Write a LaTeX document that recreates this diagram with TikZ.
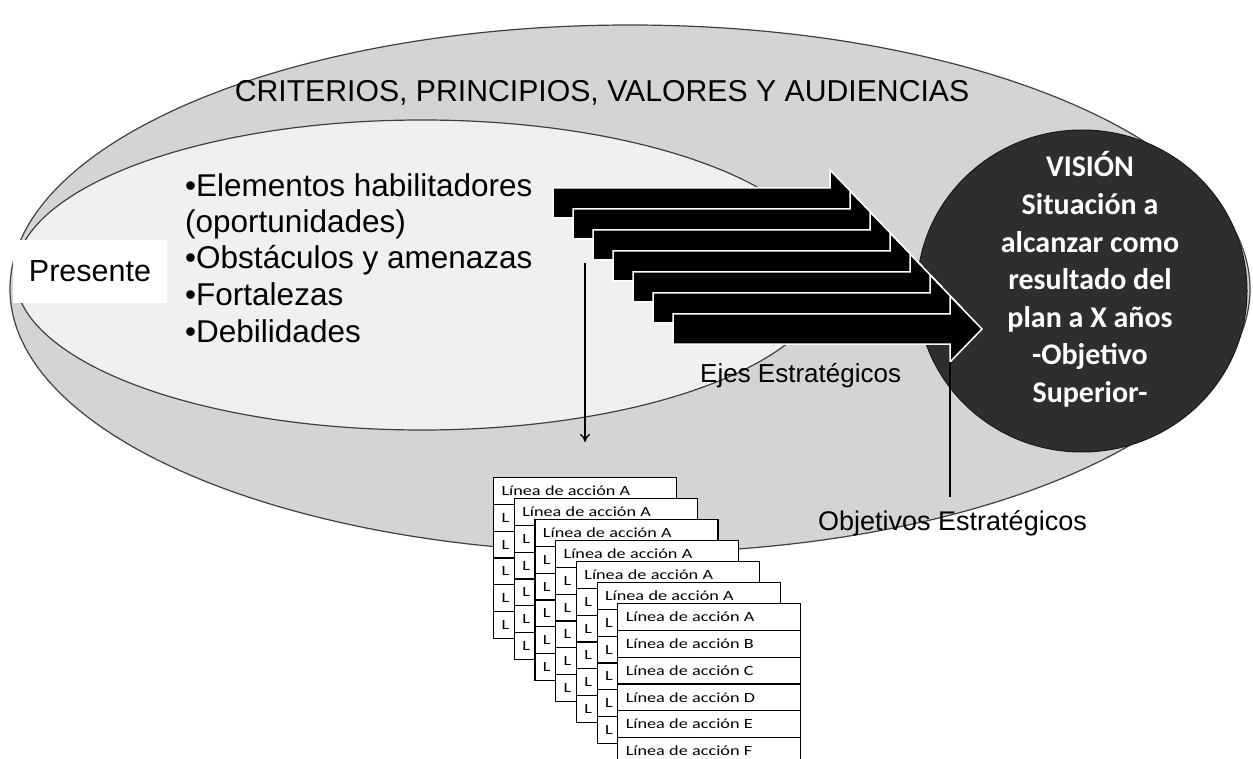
\documentclass[tikz,border=0pt]{standalone}
\usepackage{fontspec}
\setmainfont{Liberation Sans}
\newfontfamily\calib{Carlito}
\usetikzlibrary{arrows.meta}
\newcommand\cardtxt[1]{\scalebox{1.3}[1]{\calib\fontsize{14}{14}\selectfont #1}}
\begin{document}
\begin{tikzpicture}[x=1pt,y=-1pt,
  outerell/.style={draw=black!75, line width=1.2pt, fill=black!17},
  innerell/.style={draw=black!75, line width=1.2pt, fill=black!6},
  visionell/.style={draw=black!90, line width=1pt, fill=black!82},
  arrowshape/.style={fill=black, draw=white, line width=1.5pt},
  lbl/.style={inner sep=0pt, anchor=base west},
  cardrow/.style={draw=black, line width=1.1pt, fill=white, inner xsep=8pt, inner ysep=0pt,
     text width=167pt, align=left, minimum height=26.8pt, anchor=north west},
  conn/.style={line width=1.3pt, black}
]
\clip (0,0) rectangle (1253,759);
\fill[white] (0,0) rectangle (1253,759);
% ellipses
\path[outerell] (630,289) ellipse [x radius=620, y radius=264];
\path[innerell] (422,275) ellipse [x radius=407, y radius=155];
\path[visionell] (1082,291) ellipse [x radius=165, y radius=161];
% strategic axes arrows
\foreach \i [evaluate=\i as \xl using 553+20*\i, evaluate=\i as \yt using 188+21*\i] in {0,...,6}{
  \path[arrowshape] (\xl,\yt) -- (\xl+277,\yt) -- (\xl+277,\yt-18) -- (\xl+309,\yt+15)
     -- (\xl+277,\yt+48) -- (\xl+277,\yt+30) -- (\xl,\yt+30) -- cycle;
}
\coordinate (hd) at (950,362);
\coordinate (oe) at (950,497);
\coordinate (ds) at (585,263);
\coordinate (de) at (585,442);
% texts
\node[inner sep=0pt, font=\fontsize{30.2}{31}\selectfont] (crit) at (602,93) {CRITERIOS, PRINCIPIOS, VALORES Y AUDIENCIAS};
\node[fill=white, minimum width=154pt, minimum height=63pt, inner sep=0pt, font=\fontsize{30.5}{31}\selectfont] (pres) at (90,271.5) {Presente};
\foreach \n/\y/\t in {b1/197/{•Elementos habilitadores}, b2/233/{(oportunidades)}, b3/269/{•Obstáculos y amenazas}, b4/306/{•Fortalezas}, b5/342/{•Debilidades}}{
  \node[lbl, font=\fontsize{31.5}{32}\selectfont] (\n) at (185,\y) {\t};
}
\node[lbl, font=\fontsize{26}{27}\selectfont] (ejes) at (700,382) {Ejes Estratégicos};
\node[lbl, font=\fontsize{27}{28}\selectfont] (objetivos) at (818,530) {Objetivos Estratégicos};
\node[white, align=center, inner sep=0pt, font=\calib\bfseries\fontsize{30}{37.6}\selectfont] (vision) at (1090,279.5)
  {VISIÓN\\Situación a\\alcanzar como\\resultado del\\plan a X años\\-Objetivo\\Superior-};
% connectors
\draw[conn] (hd) -- (oe);
\draw[conn, -{To[length=8pt,width=10pt]}] (ds) -- (de);
% action line cards
\foreach \i [evaluate=\i as \cl using 493+20.7*\i, evaluate=\i as \ct using 477+21*\i] in {0,...,6}{
  \foreach \j/\L in {0/A,1/B,2/C,3/D,4/E,5/F}{
    \ifnum\i=6
      \node[cardrow] (c\i-\j) at (\cl,\ct+26.8*\j) {\cardtxt{Línea de acción \L}};
    \else\ifnum\j=0
      \node[cardrow] (c\i-\j) at (\cl,\ct+26.8*\j) {\cardtxt{Línea de acción \L}};
    \else
      \node[cardrow] (c\i-\j) at (\cl,\ct+26.8*\j) {\cardtxt{L}};
    \fi\fi
  }
}
\end{tikzpicture}
\end{document}
